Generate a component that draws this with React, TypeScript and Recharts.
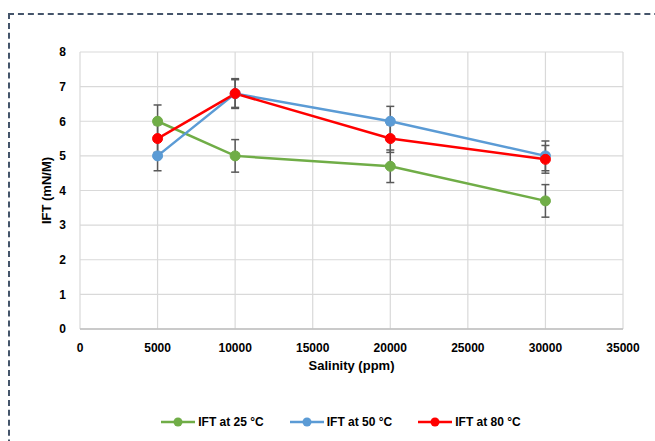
import {
  CartesianGrid,
  ErrorBar,
  Legend,
  Line,
  LineChart,
  XAxis,
  YAxis,
} from "recharts";

// salinity (ppm)
const salinity = [5000, 10000, 20000, 30000];
// IFT (mN/M) per temperature
const ift25 = [6.0, 5.0, 4.7, 3.7];
const ift50 = [5.0, 6.8, 6.0, 5.0];
const ift80 = [5.5, 6.8, 5.5, 4.9];
// error bar half-ranges
const err25 = [0.47, 0.47, 0.47, 0.47];
const err50 = [0.43, 0.43, 0.43, 0.43];
const err80 = [0.4, 0.4, 0.4, 0.4];

const xTicks = [0, 5000, 10000, 15000, 20000, 25000, 30000, 35000];
const yTicks = [0, 1, 2, 3, 4, 5, 6, 7, 8];

const SERIES = [
  { key: "t25", err: "e25", name: "IFT at 25 °C", color: "#70AD47" },
  { key: "t50", err: "e50", name: "IFT at 50 °C", color: "#5B9BD5" },
  { key: "t80", err: "e80", name: "IFT at 80 °C", color: "#FF0000" },
];

const data = salinity.map((s, i) => ({
  salinity: s,
  t25: ift25[i],
  t50: ift50[i],
  t80: ift80[i],
  e25: err25[i],
  e50: err50[i],
  e80: err80[i],
}));

const FONT = "'Liberation Sans', Arial, sans-serif";

const ChartLegend = () => (
  <div
    style={{
      display: "flex",
      justifyContent: "center",
      gap: 26,
      paddingLeft: 27,
      fontFamily: FONT,
      fontWeight: 700,
      fontSize: 12,
      color: "#000",
      height: 20,
      alignItems: "center",
    }}
  >
    {SERIES.map((s) => (
      <div key={s.key} style={{ display: "flex", alignItems: "center" }}>
        <svg width={34} height={10}>
          <line x1={0} y1={5} x2={34} y2={5} stroke={s.color} strokeWidth={2.5} />
          <circle cx={17} cy={5} r={4.5} fill={s.color} />
        </svg>
        <span style={{ marginLeft: 3 }}>{s.name}</span>
      </div>
    ))}
  </div>
);

const YLabel = ({ viewBox }: any) => {
  const x = 46;
  const y = viewBox.y + viewBox.height / 2;
  return (
    <text
      x={x}
      y={y}
      transform={`rotate(-90 ${x} ${y})`}
      textAnchor="middle"
      dominantBaseline="central"
      fontFamily={FONT}
      fontWeight={700}
      fontSize={13}
      fill="#000"
    >
      IFT (mN/M)
    </text>
  );
};

export default function App() {
  return (
    <div
      style={{
        position: "absolute",
        left: 0,
        top: 0,
        width: 655,
        height: 441,
        overflow: "hidden",
        background: "#fff",
      }}
    >
      {/* dashed frame, only top/left visible */}
      <div
        style={{
          position: "absolute",
          left: 8,
          top: 13,
          width: 700,
          height: 500,
          borderTop: "2px dashed #44546A",
          borderLeft: "2px dashed #44546A",
        }}
      />
      <div style={{ position: "absolute", left: 0, top: 0 }}>
        <LineChart
          width={655}
          height={441}
          data={data}
          margin={{ top: 52, right: 32, left: 0, bottom: 42 }}
        >
          <CartesianGrid stroke="#D9D9D9" strokeWidth={1.2} />
          <XAxis
            dataKey="salinity"
            type="number"
            domain={[0, 35000]}
            ticks={xTicks}
            interval={0}
            height={50}
            tickLine={false}
            axisLine={{ stroke: "#BFBFBF", strokeWidth: 1.5 }}
            tickMargin={8}
            tick={{ fontFamily: FONT, fontWeight: 700, fontSize: 12, fill: "#000" }}
            label={{
              value: "Salinity (ppm)",
              position: "insideBottom",
              offset: 9,
              style: { fontFamily: FONT, fontWeight: 700, fontSize: 13, fill: "#000" },
            }}
          />
          <YAxis
            type="number"
            domain={[0, 8]}
            ticks={yTicks}
            interval={0}
            width={80}
            tickLine={false}
            axisLine={false}
            tickMargin={8}
            tick={{ fontFamily: FONT, fontWeight: 700, fontSize: 12, fill: "#000" }}
            label={<YLabel />}
          />
          <Legend
            verticalAlign="bottom"
            wrapperStyle={{ top: 412, left: 0, width: 655 }}
            content={<ChartLegend />}
          />
          {SERIES.map((s) => (
            <Line
              key={s.key}
              type="linear"
              dataKey={s.key}
              name={s.name}
              stroke={s.color}
              strokeWidth={2.5}
              dot={{ r: 5, fill: s.color, stroke: s.color, strokeWidth: 1 }}
              activeDot={false}
              isAnimationActive={false}
            >
              <ErrorBar
                dataKey={s.err}
                direction="y"
                width={4}
                stroke="#595959"
                strokeWidth={1.5}
                isAnimationActive={false}
              />
            </Line>
          ))}
        </LineChart>
      </div>
    </div>
  );
}
